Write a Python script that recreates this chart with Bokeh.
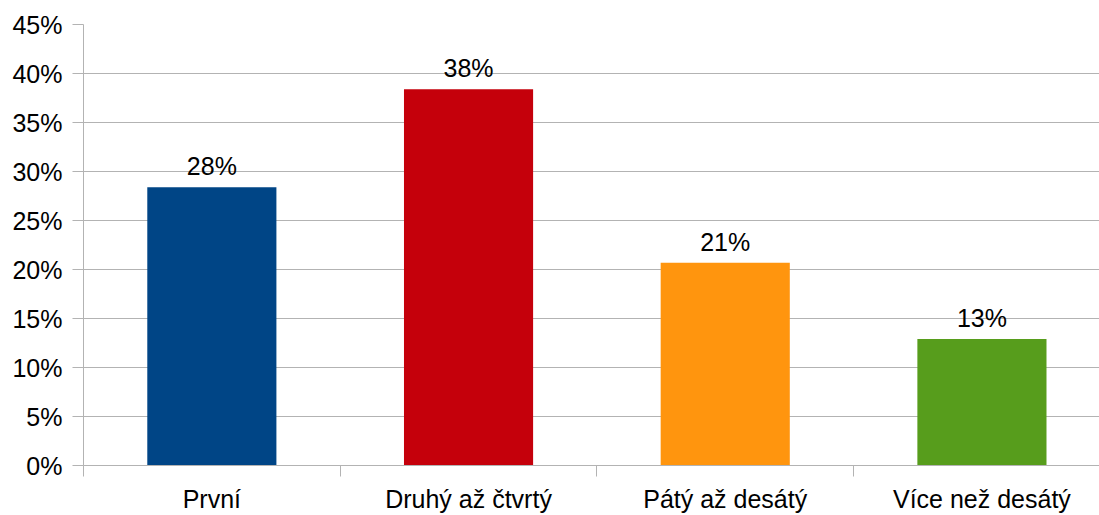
from bokeh.plotting import figure
from bokeh.models import (ColumnDataSource, Range1d, FixedTicker, NumeralTickFormatter,
                          LabelSet)
from bokeh.core.properties import value
from bokeh.embed import file_html
from bokeh.resources import INLINE

# Survey shares per category
categories = ["První", "Druhý až čtvrtý", "Pátý až desátý", "Více než desátý"]
shares = [0.284, 0.384, 0.207, 0.129]
colors = ["#004586", "#c5000b", "#ff950e", "#579d1c"]
y_ticks = [0.0, 0.05, 0.10, 0.15, 0.20, 0.25, 0.30, 0.35, 0.40, 0.45]

FONT = "Liberation Sans"
GRID = "#b3b3b3"

centers = [i + 0.5 for i in range(len(categories))]
labels = [f"{round(v * 100):d}%" for v in shares]

source = ColumnDataSource(data=dict(x=centers, top=shares, color=colors, label=labels))

p = figure(width=1099, height=515, output_backend="svg", toolbar_location=None,
           x_range=Range1d(0, 3.958), y_range=Range1d(0, 0.45),
           min_border_left=83, min_border_right=0, min_border_top=24, min_border_bottom=50)
p.outline_line_color = None
p.background_fill_color = "white"
p.border_fill_color = "white"

p.vbar(x="x", top="top", width=0.503, bottom=0, color="color", line_color=None, source=source)

p.add_layout(LabelSet(x="x", y="top", text="label", source=source, text_align="center",
                      text_baseline="alphabetic", y_offset=12, text_font=value(FONT),
                      text_font_size="25px", text_color="black"))

# y axis
p.yaxis.ticker = FixedTicker(ticks=y_ticks)
p.yaxis.formatter = NumeralTickFormatter(format="0%")
p.yaxis.axis_line_color = GRID
p.yaxis.major_tick_line_color = GRID
p.yaxis.major_tick_out = 11
p.yaxis.major_tick_in = 0
p.yaxis.minor_tick_line_color = None
p.yaxis.major_label_standoff = 10
p.yaxis.major_label_text_font = FONT
p.yaxis.major_label_text_font_size = "25px"
p.yaxis.major_label_text_color = "black"

# x axis: labels at category centres, ticks at category boundaries
p.xaxis.ticker = FixedTicker(ticks=centers, minor_ticks=list(range(len(categories) + 1)))
p.xaxis.major_label_overrides = {c: name for c, name in zip(centers, categories)}
p.xaxis.axis_line_color = GRID
p.xaxis.major_tick_line_color = None
p.xaxis.major_tick_out = 0
p.xaxis.major_tick_in = 0
p.xaxis.minor_tick_line_color = GRID
p.xaxis.minor_tick_out = 11
p.xaxis.minor_tick_in = 0
p.xaxis.major_label_standoff = 8
p.xaxis.major_label_text_font = FONT
p.xaxis.major_label_text_font_size = "25px"
p.xaxis.major_label_text_color = "black"

p.xgrid.grid_line_color = None
p.ygrid.grid_line_color = GRID
p.ygrid.grid_line_width = 1

open("out.html", "w").write(file_html(p, INLINE))
